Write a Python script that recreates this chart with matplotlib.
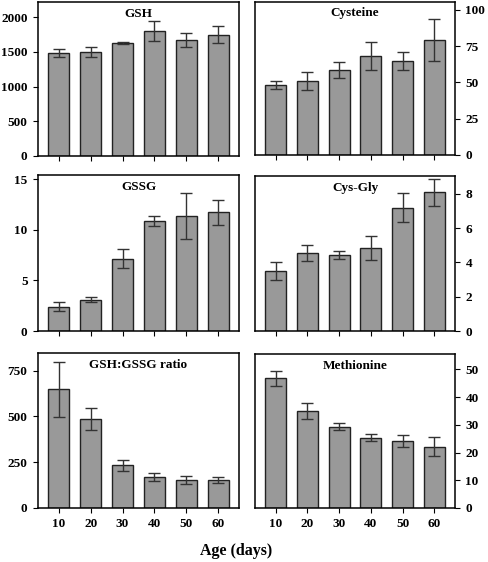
import matplotlib
matplotlib.use("Agg")
import matplotlib.pyplot as plt

plt.rcParams["font.family"] = ["Liberation Serif", "DejaVu Serif"]
plt.rcParams["font.weight"] = "bold"

ages = ["10", "20", "30", "40", "50", "60"]

gsh = [1480, 1500, 1625, 1800, 1670, 1750]
gsh_err = [60, 70, 15, 140, 100, 120]

cysteine = [48.2, 51.2, 58.6, 68.0, 64.9, 79.2]
cysteine_err = [2.5, 6.2, 5.2, 9.6, 6.1, 14.6]

gssg = [2.4, 3.1, 7.15, 10.85, 11.35, 11.7]
gssg_err = [0.45, 0.27, 0.9, 0.5, 2.25, 1.25]

cysgly = [3.5, 4.55, 4.45, 4.85, 7.2, 8.1]
cysgly_err = [0.5, 0.47, 0.25, 0.7, 0.85, 0.8]

ratio = [647, 488, 232, 170, 153, 153]
ratio_err = [150, 60, 28, 20, 24, 16]

methionine = [46.8, 35.0, 29.3, 25.4, 24.1, 22.1]
methionine_err = [2.7, 2.8, 1.3, 1.4, 2.1, 3.5]

W, H = 488, 562
fig = plt.figure(figsize=(W / 100, H / 100), dpi=100)


def panel(x0, x1, y0, y1, title, vals, errs, ymax, yticks, right=False, xlabels=False):
    ax = fig.add_axes([x0 / W, 1 - y1 / H, (x1 - x0) / W, (y1 - y0) / H])
    xs = list(range(len(ages)))
    ax.bar(xs, vals, width=0.66, color="#999999", edgecolor="#222222", linewidth=1.0)
    ax.errorbar(xs, vals, yerr=errs, fmt="none", ecolor="#333333",
                elinewidth=1.0, capsize=4, capthick=1.0)
    ax.set_xlim(-0.65, 5.65)
    ax.set_ylim(0, ymax)
    ax.set_yticks(yticks)
    ax.set_xticks(xs)
    if xlabels:
        ax.set_xticklabels(ages)
    else:
        ax.set_xticklabels([])
    ax.tick_params(direction="out", length=3.5, width=0.8, labelsize=9.5, pad=4)
    if right:
        ax.yaxis.tick_right()
    for s in ax.spines.values():
        s.set_linewidth(1.1)
    for lab in ax.get_xticklabels() + ax.get_yticklabels():
        lab.set_fontweight("bold")
    ax.text(0.5, 0.925, title, transform=ax.transAxes, ha="center", va="center",
            fontsize=9.5, fontweight="bold")
    return ax


lx0, lx1 = 38, 239
rx0, rx1 = 255, 455

panel(lx0, lx1, 2, 156, "GSH", gsh, gsh_err, 2220, [0, 500, 1000, 1500, 2000])
panel(rx0, rx1, 2, 155, "Cysteine", cysteine, cysteine_err, 105.5, [0, 25, 50, 75, 100], right=True)
panel(lx0, lx1, 175, 331, "GSSG", gssg, gssg_err, 15.4, [0, 5, 10, 15])
panel(rx0, rx1, 176, 331, "Cys-Gly", cysgly, cysgly_err, 9.05, [0, 2, 4, 6, 8], right=True)
panel(lx0, lx1, 353, 508, "GSH:GSSG ratio", ratio, ratio_err, 846, [0, 250, 500, 750], xlabels=True)
panel(rx0, rx1, 354, 508, "Methionine", methionine, methionine_err, 55.5,
      [0, 10, 20, 30, 40, 50], right=True, xlabels=True)

fig.text(236 / W, 1 - 551 / H, "Age (days)", ha="center", va="center",
         fontsize=11.5, fontweight="bold")

fig.savefig("out.png", dpi=100)
